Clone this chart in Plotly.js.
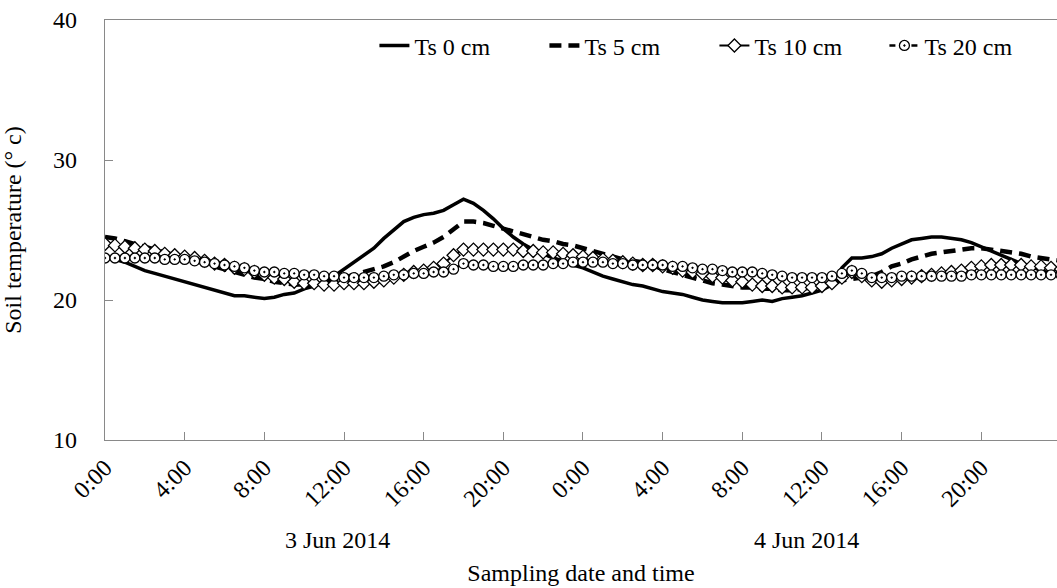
<!DOCTYPE html>
<html>
<head>
<meta charset="utf-8">
<script src="https://cdn.plot.ly/plotly-3.0.1.min.js"></script>
<style>html,body{margin:0;padding:0;background:#fff;}#chart{width:1057px;height:588px;}</style>
</head>
<body>
<div id="chart"></div>
<script>
// Sampling hours since 0:00, 3 Jun 2014 (half-hourly)
var hours = [];
for (var i = 0; i <= 96; i++) { hours.push(i * 0.5); }

var ts0 = [23.0,22.9,22.7,22.4,22.1,21.9,21.7,21.5,21.3,21.1,20.9,20.7,20.5,20.3,20.3,20.2,20.1,20.2,20.4,20.5,
  20.8,21.0,21.3,21.7,22.2,22.7,23.2,23.7,24.4,25.0,25.6,25.9,26.1,26.2,26.4,26.8,27.2,26.9,26.4,25.8,
  25.1,24.5,24.0,23.6,23.3,23.0,22.8,22.5,22.3,22.0,21.7,21.5,21.3,21.1,21.0,20.8,20.6,20.5,20.4,20.2,
  20.0,19.9,19.8,19.8,19.8,19.9,20.0,19.9,20.1,20.2,20.3,20.5,20.7,21.1,22.3,23.0,23.0,23.1,23.3,23.7,
  24.0,24.3,24.4,24.5,24.5,24.4,24.3,24.1,23.8,23.5,23.2,22.9,22.6,22.4,22.1,21.9,21.8];

var ts5 = [24.5,24.4,24.2,24.0,23.8,23.6,23.4,23.2,23.0,22.8,22.6,22.4,22.2,22.0,21.8,21.6,21.5,21.3,21.2,21.1,
  21.1,21.1,21.2,21.4,21.6,21.8,22.0,22.2,22.4,22.7,23.1,23.5,23.8,24.1,24.5,25.1,25.6,25.6,25.5,25.3,
  25.1,24.9,24.7,24.5,24.3,24.2,24.0,23.9,23.7,23.5,23.3,23.1,22.9,22.8,22.7,22.5,22.2,22.0,21.8,21.6,
  21.4,21.2,21.1,21.0,20.9,20.9,20.8,20.8,20.7,20.7,20.8,20.9,21.0,21.2,21.4,21.5,21.6,21.7,22.0,22.4,
  22.6,22.9,23.1,23.3,23.4,23.5,23.6,23.7,23.7,23.6,23.5,23.4,23.3,23.1,23.0,22.9,22.8];

var ts10 = [24.0,23.9,23.8,23.7,23.6,23.5,23.3,23.2,23.1,23.0,22.8,22.6,22.5,22.3,22.2,22.0,21.8,21.6,21.5,21.3,
  21.2,21.2,21.1,21.1,21.2,21.2,21.2,21.3,21.4,21.6,21.8,22.0,22.1,22.3,22.6,23.2,23.6,23.6,23.6,23.6,
  23.6,23.6,23.5,23.5,23.4,23.4,23.3,23.2,23.1,23.0,22.9,22.8,22.7,22.6,22.5,22.5,22.4,22.3,22.1,22.0,
  21.9,21.7,21.6,21.4,21.3,21.1,21.0,21.0,20.9,20.9,20.9,20.9,21.0,21.2,21.6,22.0,21.7,21.4,21.3,21.4,
  21.5,21.6,21.7,21.8,21.9,22.0,22.1,22.3,22.4,22.5,22.5,22.5,22.5,22.4,22.4,22.3,22.2];

var ts20 = [23.0,23.0,23.0,23.0,23.0,23.0,22.9,22.9,22.9,22.8,22.7,22.6,22.5,22.4,22.3,22.1,22.0,22.0,21.9,21.9,
  21.8,21.8,21.7,21.7,21.6,21.6,21.6,21.6,21.7,21.8,21.8,21.9,21.9,22.0,22.0,22.2,22.6,22.5,22.5,22.4,
  22.4,22.4,22.5,22.5,22.5,22.6,22.6,22.7,22.7,22.7,22.7,22.6,22.6,22.5,22.5,22.5,22.5,22.4,22.4,22.3,
  22.2,22.2,22.1,22.0,22.0,22.0,21.9,21.8,21.7,21.6,21.6,21.6,21.6,21.7,21.9,22.1,21.9,21.6,21.6,21.6,
  21.7,21.7,21.7,21.7,21.7,21.7,21.7,21.8,21.8,21.8,21.8,21.8,21.8,21.8,21.8,21.8,21.8];

var seriesNames = ["Ts 0 cm", "Ts 5 cm", "Ts 10 cm", "Ts 20 cm"];
var tickHours = [0, 4, 8, 12, 16, 20, 24, 28, 32, 36, 40, 44];
var tickLabels = ["0:00","4:00","8:00","12:00","16:00","20:00","0:00","4:00","8:00","12:00","16:00","20:00"];
var dateLabels = ["3 Jun 2014", "4 Jun 2014"];
var dateLabelHours = [11.65, 35.2];
var yTicks = [10, 20, 30, 40];

var FONT = "Liberation Serif, Times New Roman, serif";
var FS = 24;

var traces = [
  {x: hours, y: ts0, name: seriesNames[0], type: "scatter", mode: "lines",
   line: {color: "#000", width: 3.5}},
  {x: hours, y: ts5, name: seriesNames[1], type: "scatter", mode: "lines",
   line: {color: "#000", width: 4.5, dash: "12px,7px"}},
  {x: hours, y: ts10, name: seriesNames[2], type: "scatter", mode: "lines+markers",
   line: {color: "#000", width: 2},
   marker: {symbol: "diamond", size: 10, color: "#fff", line: {color: "#000", width: 1.3}}},
  {x: hours, y: ts20, name: seriesNames[3], type: "scatter", mode: "lines+markers",
   line: {color: "#000", width: 2.5, dash: "6px,5px"},
   marker: {symbol: "circle-dot", size: 10, color: "#fff", line: {color: "#000", width: 1.3}}}
];

var annotations = dateLabels.map(function (t, i) {
  return {text: t, x: dateLabelHours[i], xref: "x", y: -0.238, yref: "paper",
          showarrow: false, xanchor: "center", yanchor: "middle",
          font: {family: FONT, size: FS, color: "#000"}};
});

var layout = {
  width: 1057, height: 588,
  margin: {l: 105, r: 0, t: 20, b: 148},
  paper_bgcolor: "#fff", plot_bgcolor: "#fff",
  font: {family: FONT, size: FS, color: "#000"},
  showlegend: true,
  legend: {orientation: "h", x: 0.283, xanchor: "left", y: 0.992, yanchor: "top",
           font: {family: FONT, size: FS, color: "#000"}, bgcolor: "rgba(0,0,0,0)",
           itemwidth: 30, entrywidth: 125, entrywidthmode: "pixels", traceorder: "normal"},
  xaxis: {
    range: [0, 47.8], tickmode: "array", tickvals: tickHours, ticktext: tickLabels,
    tickangle: -45, ticks: "inside", ticklen: 8, tickcolor: "#898989", tickwidth: 1,
    showline: true, linecolor: "#898989", linewidth: 1.2, mirror: true,
    showgrid: false, zeroline: false, ticklabelstandoff: 3,
    tickfont: {family: FONT, size: FS, color: "#000"},
    title: {text: "Sampling date and time", standoff: 53, font: {family: FONT, size: FS, color: "#000"}}
  },
  yaxis: {
    range: [10, 40], tickmode: "array", tickvals: yTicks,
    ticks: "inside", ticklen: 8, tickcolor: "#898989", tickwidth: 1,
    showline: true, linecolor: "#898989", linewidth: 1.2,
    showgrid: false, zeroline: false, ticklabelstandoff: 22,
    tickfont: {family: FONT, size: FS, color: "#000"},
    title: {text: "Soil temperature (° c)", standoff: 25, font: {family: FONT, size: FS, color: "#000"}}
  },
  annotations: annotations
};

Plotly.newPlot("chart", traces, layout, {displayModeBar: false, staticPlot: true});
</script>
</body>
</html>
